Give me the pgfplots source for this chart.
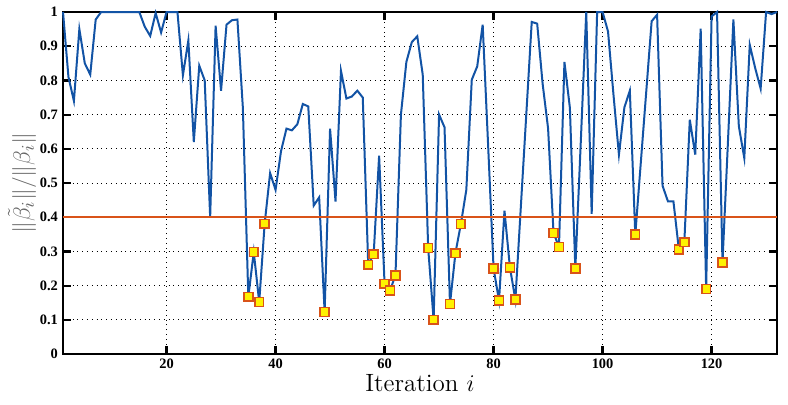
\documentclass[border=0pt]{standalone}
\usepackage{fontspec}
\usepackage{pgfplots}
\pgfplotsset{compat=1.18}
\usepackage{pgfplotstable}
\newfontfamily\tickfont{Liberation Serif}
\definecolor{lineblue}{RGB}{18,83,165}
\definecolor{mlorange}{RGB}{217,83,25}
\pgfplotstableread{
i v
1 1.0
2 0.81
3 0.74
4 0.95
5 0.85
6 0.817
7 0.978
8 1.0
9 1.0
10 1.0
11 1.0
12 1.0
13 1.0
14 1.0
15 1.0
16 0.957
17 0.93
18 0.997
19 0.94
20 1.0
21 1.0
22 1.0
23 0.815
24 0.917
25 0.62
26 0.843
27 0.80
28 0.40
29 0.96
30 0.77
31 0.963
32 0.976
33 0.978
34 0.72
35 0.167
36 0.298
37 0.152
38 0.381
39 0.529
40 0.48
41 0.593
42 0.659
43 0.654
44 0.672
45 0.731
46 0.724
47 0.434
48 0.458
49 0.123
50 0.659
51 0.446
52 0.828
53 0.747
54 0.753
55 0.77
56 0.75
57 0.261
58 0.292
59 0.58
60 0.205
61 0.186
62 0.23
63 0.70
64 0.854
65 0.912
66 0.929
67 0.817
68 0.31
69 0.10
70 0.70
71 0.663
72 0.146
73 0.295
74 0.38
75 0.48
76 0.802
77 0.841
78 0.963
79 0.61
80 0.25
81 0.156
82 0.419
83 0.253
84 0.159
85 0.43
86 0.70
87 0.971
88 0.966
89 0.79
90 0.66
91 0.354
92 0.313
93 0.854
94 0.72
95 0.25
96 0.62
97 1.0
98 0.41
99 1.0
100 1.0
101 0.943
102 0.758
103 0.583
104 0.721
105 0.77
106 0.349
107 0.557
108 0.765
109 0.973
110 0.992
111 0.492
112 0.446
113 0.446
114 0.305
115 0.327
116 0.685
117 0.583
118 0.951
119 0.19
120 0.987
121 1.0
122 0.268
123 0.62
124 0.978
125 0.666
126 0.573
127 0.904
128 0.836
129 0.776
130 1.0
131 0.994
132 1.0
}\ratios
\pgfplotstableread{
i v
35 0.167
36 0.298
37 0.152
38 0.381
49 0.123
57 0.261
58 0.292
60 0.205
61 0.186
62 0.230
68 0.310
69 0.100
72 0.146
73 0.295
74 0.380
80 0.250
81 0.156
83 0.253
84 0.159
91 0.354
92 0.313
95 0.250
106 0.349
114 0.305
115 0.327
119 0.190
122 0.268
}\lows
\begin{document}
\begin{tikzpicture}
\useasboundingbox (-31.5pt,-25pt) rectangle (362.5pt,177pt);
\begin{axis}[
  at={(0,0)}, anchor=south west,
  scale only axis, width=357pt, height=171pt,
  xmin=1, xmax=132, ymin=0, ymax=1,
  xtick={20,40,60,80,100,120},
  ytick={0,0.1,0.2,0.3,0.4,0.5,0.6,0.7,0.8,0.9,1},
  yticklabels={0,0.1,0.2,0.3,0.4,0.5,0.6,0.7,0.8,0.9,1},
  /pgf/number format/assume math mode=true,
  tick label style={font=\tickfont\bfseries\fontsize{7.2}{8}\selectfont},
  xticklabel style={inner sep=1.5pt, yshift=-1pt},
  yticklabel style={xshift=1pt},
  tick align=inside, major tick length=4pt,
  tick style={black, line width=1.1pt},
  axis line style={black, line width=1.4pt},
  xmajorgrids, ymajorgrids,
  grid style={black, dotted, line width=0.45pt},
  xlabel={Iteration $i$},
  xlabel style={font=\fontsize{12.5}{14}\selectfont, inner sep=0pt, at={(axis description cs:0.5,-0.111)}, anchor=base},
  ylabel={$\|\tilde{\beta}_i\|/\|\beta_i\|$},
  ylabel style={font=\fontsize{13}{15}\selectfont, text=black!60, at={(axis description cs:-0.0574,0.5)}, anchor=center},
  clip=false,
]
\addplot[lineblue, line width=1pt, mark=none] table[x=i,y=v] {\ratios};
\addplot[mlorange, line width=1pt, mark=none] coordinates {(1,0.4) (132,0.4)};
\addplot[only marks, mark=square*, mark size=2.2pt, mark options={fill=yellow, draw=mlorange, line width=0.8pt}] table[x=i,y=v] {\lows};
\end{axis}
\end{tikzpicture}
\end{document}
